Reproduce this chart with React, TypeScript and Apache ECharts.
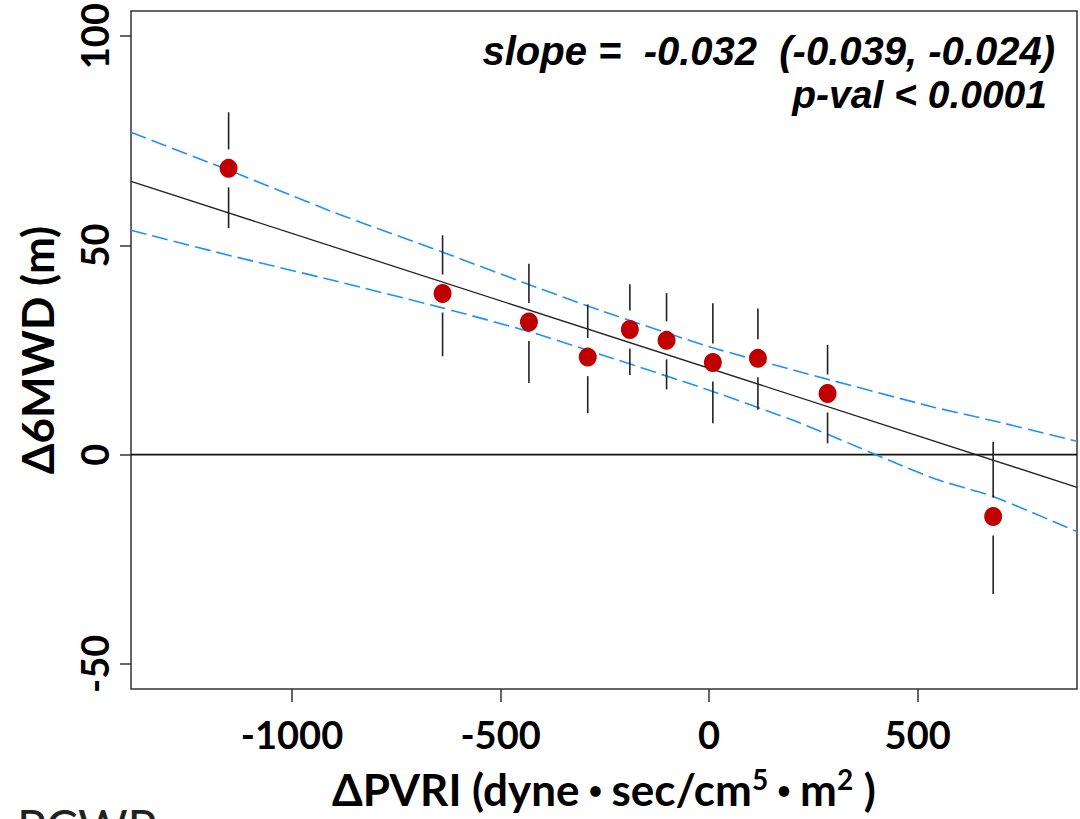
import React, { useEffect, useRef } from "react";
import * as echarts from "echarts";

// Axis ranges and tick labels
const xMin = -1386;
const xMax = 882;
const yMin = -56;
const yMax = 106;
const xTicks = [-1000, -500, 0, 500];
const yTicks = [-50, 0, 50, 100];

// Group means with error bars
const ptX = [-1152, -639, -432, -291, -190, -102, 9, 117, 284, 681];
const ptY = [68.4, 38.5, 31.7, 23.3, 29.9, 27.3, 22.0, 23.0, 14.6, -14.8];
const ptHigh = [81.8, 52.4, 45.6, 35.9, 40.7, 38.6, 36.2, 34.9, 26.2, 3.1];
const ptLow = [54.1, 23.5, 17.1, 9.9, 19.0, 15.6, 7.5, 10.7, 2.7, -33.3];

// Regression line
const regX = [-1386, 882];
const regY = [65.3, -7.8];

// Confidence band
const ciX = [-1386, -1150, -900, -637, -428, -262, 0, 217, 536, 681, 882];
const ciUpper = [77.0, 67.9, 57.9, 48.3, 40.5, 34.5, 25.8, 19.8, 11.4, 8.1, 3.2];
const ciLower = [53.6, 47.6, 41.6, 35.0, 29.3, 24.0, 15.4, 7.6, -5.6, -10.0, -18.4];

const slopeText = "slope =  -0.032  (-0.039, -0.024)";
const pvalText = "p-val < 0.0001";
const yTitle = "\u03946MWD (m)";
const footerText = "PCWP";

export default function App() {
  const ref = useRef<HTMLDivElement>(null);
  useEffect(() => {
    if (!ref.current) return;
    const chart = echarts.init(ref.current, null, { renderer: "svg" });
    const tickFont = { fontFamily: "Lato", fontWeight: "bold" as const, fontSize: 38, color: "#000" };
    const option: any = {
      animation: false,
      backgroundColor: "#fff",
      grid: {
        left: 131,
        right: 3,
        top: 11,
        bottom: 130,
        show: true,
        borderColor: "#333",
        borderWidth: 1.5,
        backgroundColor: "transparent",
      },
      xAxis: {
        type: "value",
        min: xMin,
        max: xMax,
        axisLine: { show: false, onZero: false },
        splitLine: { show: false },
        axisTick: { show: true, length: 13, customValues: xTicks, lineStyle: { color: "#333", width: 1.5 } },
        axisLabel: { ...tickFont, margin: 26, customValues: xTicks, formatter: (v: number) => String(v) },
        name: "{t|\u0394PVRI (dyne}{d|\u2022}{t|sec/cm}{s|5}{d|\u2022}{t|m}{s|2}{t| )}",
        nameLocation: "middle",
        nameGap: 76,
        nameTextStyle: {
          rich: {
            t: { fontFamily: "Lato", fontWeight: "bold", fontSize: 44, color: "#000" },
            s: { fontFamily: "Lato", fontWeight: "bold", fontSize: 28, color: "#000", verticalAlign: "top", padding: [0, 0, 20, 0] },
            d: { fontFamily: "Lato", fontWeight: "bold", fontSize: 24, color: "#000", padding: [0, 9, 0, 9] },
          },
        },
      },
      yAxis: {
        type: "value",
        min: yMin,
        max: yMax,
        axisLine: { show: false, onZero: false },
        splitLine: { show: false },
        axisTick: { show: true, length: 11, customValues: yTicks, lineStyle: { color: "#333", width: 1.5 } },
        axisLabel: { ...tickFont, rotate: 90, margin: 18, customValues: yTicks, formatter: (v: number) => String(v) },
        name: yTitle,
        nameLocation: "middle",
        nameRotate: 90,
        nameGap: 72,
        nameTextStyle: { fontFamily: "Lato", fontWeight: "bold", fontSize: 44, color: "#000" },
      },
      series: [
        {
          type: "line",
          data: [[xMin, 0], [xMax, 0]],
          symbol: "none",
          lineStyle: { color: "#111", width: 1.6 },
          silent: true,
          z: 1,
        },
        {
          type: "line",
          data: ciX.map((x, i) => [x, ciUpper[i]]),
          symbol: "none",
          smooth: 0.2,
          lineStyle: { color: "#1E90FF", width: 1.6, type: [16, 6] },
          z: 2,
        },
        {
          type: "line",
          data: ciX.map((x, i) => [x, ciLower[i]]),
          symbol: "none",
          smooth: 0.2,
          lineStyle: { color: "#1E90FF", width: 1.6, type: [16, 6] },
          z: 2,
        },
        {
          type: "line",
          data: regX.map((x, i) => [x, regY[i]]),
          symbol: "none",
          lineStyle: { color: "#222", width: 1.3 },
          z: 3,
        },
        {
          type: "custom",
          data: ptX.map((x, i) => [x, ptLow[i], ptHigh[i], ptY[i]]),
          encode: { x: 0, y: [1, 2, 3] },
          renderItem: (params: any, api: any) => {
            const x = api.value(0);
            const lo = api.value(1);
            const hi = api.value(2);
            const y = api.value(3);
            const top = api.coord([x, hi]);
            const c = api.coord([x, y]);
            const bot = api.coord([x, lo]);
            const gap = 19;
            const children: any[] = [];
            const st = { stroke: "#222", lineWidth: 1.6 };
            if (c[1] - gap > top[1]) {
              children.push({ type: "line", shape: { x1: top[0], y1: top[1], x2: c[0], y2: c[1] - gap }, style: st });
            }
            if (bot[1] > c[1] + gap) {
              children.push({ type: "line", shape: { x1: c[0], y1: c[1] + gap, x2: bot[0], y2: bot[1] }, style: st });
            }
            return { type: "group", children };
          },
          z: 4,
        },
        {
          type: "scatter",
          data: ptX.map((x, i) => [x, ptY[i]]),
          symbol: "circle",
          symbolSize: [18, 19],
          itemStyle: { color: "#C00000", opacity: 1 },
          z: 5,
        },
      ],
      graphic: [
        {
          type: "text",
          right: 25,
          top: 31,
          style: {
            text: slopeText,
            font: "italic bold 40px 'Liberation Sans', Arial, sans-serif",
            fill: "#000",
            textAlign: "right",
          },
        },
        {
          type: "text",
          right: 33,
          top: 75,
          style: {
            text: pvalText,
            font: "italic bold 39px 'Liberation Sans', Arial, sans-serif",
            fill: "#000",
            textAlign: "right",
          },
        },
        {
          type: "text",
          left: 17,
          top: 802,
          style: {
            text: footerText,
            font: "48px Lato, sans-serif",
            fill: "#222",
          },
        },
      ],
    };
    chart.setOption(option);
    return () => chart.dispose();
  }, []);
  return (
    <div
      ref={ref}
      style={{ position: "absolute", left: 0, top: 0, width: 1080, height: 819, background: "#fff" }}
    />
  );
}
